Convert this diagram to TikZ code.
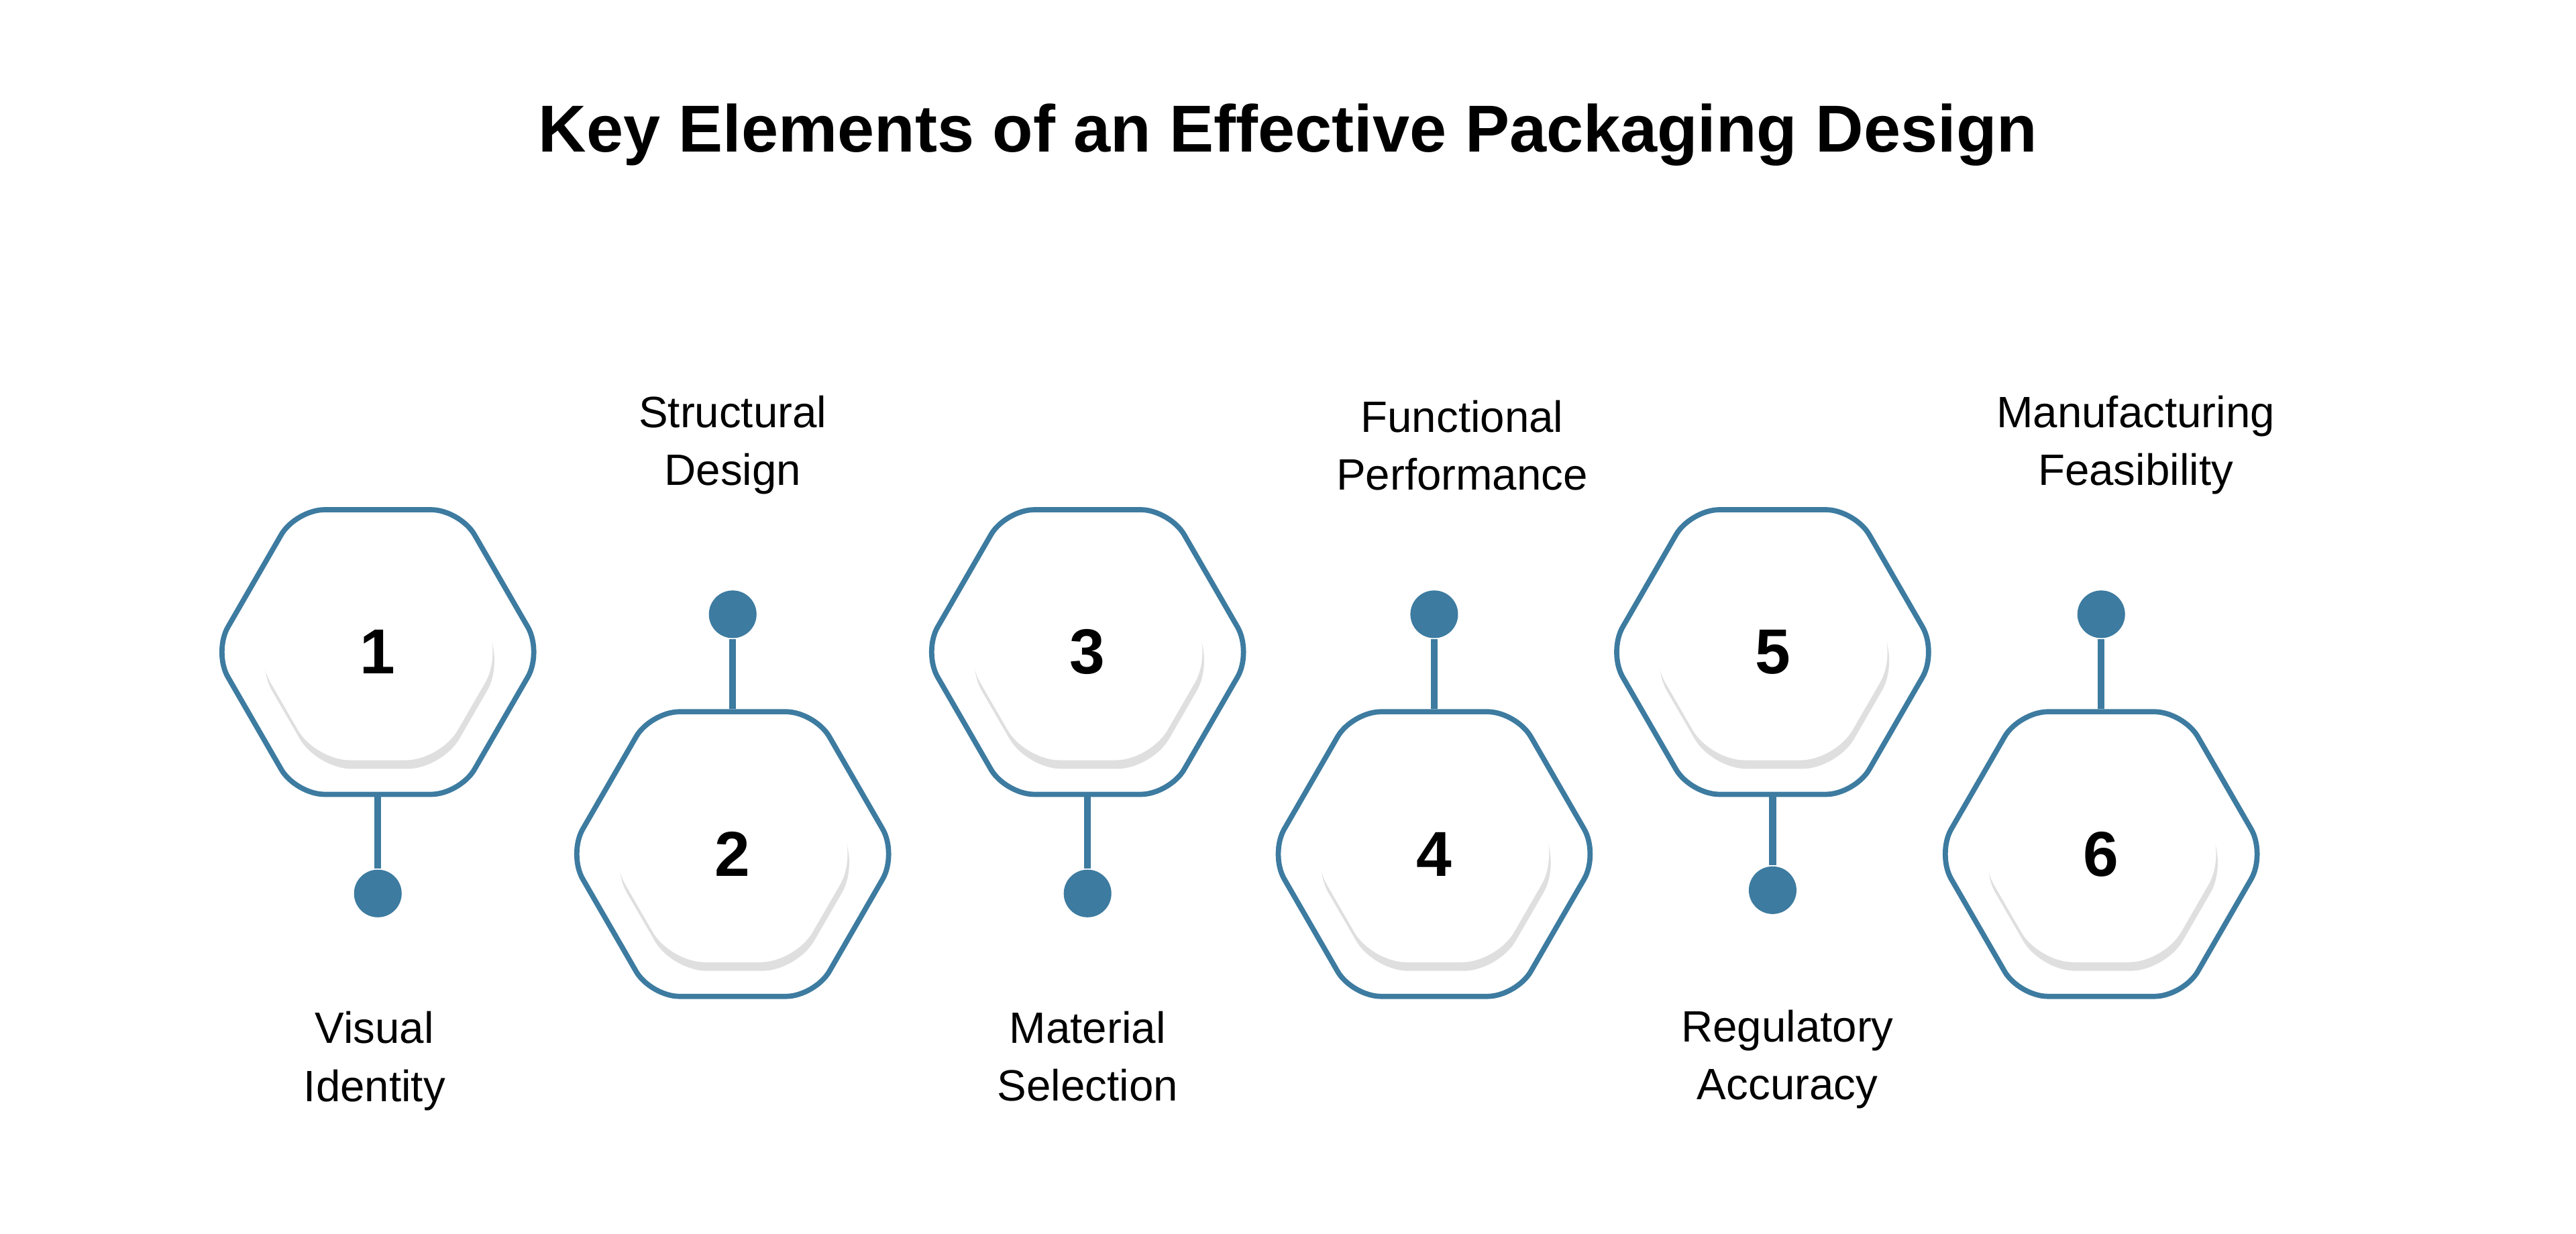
\documentclass[tikz,border=0pt]{standalone}
\usepackage{fontspec}
\setmainfont{Liberation Sans}
\usetikzlibrary{shapes.geometric, shadows}
\definecolor{steel}{HTML}{3D7BA0}

\tikzset{
  hexout/.style={regular polygon, regular polygon sides=6, minimum size=2cm, inner sep=0pt,
    draw=steel, line width=0.9pt, rounded corners=5pt, fill=white},
  hexin/.style={regular polygon, regular polygon sides=6, minimum size=1.52cm, inner sep=0pt,
    fill=white, rounded corners=6pt, font=\bfseries\fontsize{11}{12}\selectfont,
    drop shadow={shadow xshift=0.3pt, shadow yshift=-1.5pt, fill=black!35, opacity=0.35}},
  dot/.style={circle, fill=steel, minimum size=0.29cm, inner sep=0pt},
  stem/.style={draw=steel, line width=1.2pt},
  lbl/.style={align=center, font=\fontsize{7.6}{10}\selectfont}
}

\begin{document}
\begin{tikzpicture}[x=0.01cm, y=-0.01cm]
\useasboundingbox (0,0) rectangle (1568,751);
\node[font=\bfseries\fontsize{11.5}{13}\selectfont] (title) at (784,82) {Key Elements of an Effective Packaging Design};

% upper row: 1, 3, 5 / lower row: 2, 4, 6
\foreach \n/\x/\y/\dy in {1/230/397/544, 2/446/520/374, 3/662/397/544, 4/873/520/374, 5/1079/397/542, 6/1279/520/374} {
  \node[hexout] (h\n) at (\x,\y) {};
  \node[hexin] (i\n) at (\x,\y) {\n};
  \node[dot] (d\n) at (\x,\dy) {};
}
\foreach \n in {1,3,5} \draw[stem] (h\n.south) -- (d\n);
\foreach \n in {2,4,6} \draw[stem] (d\n) -- (h\n.north);

\node[lbl] (l1) at (228,646) {Visual\\Identity};
\node[lbl] (l2) at (446,271) {Structural\\Design};
\node[lbl] (l3) at (662,643) {Material\\Selection};
\node[lbl] (l4) at (890,271) {Functional\\Performance};
\node[lbl] (l5) at (1088,645) {Regulatory\\Accuracy};
\node[lbl] (l6) at (1300,271) {Manufacturing\\Feasibility};
\end{tikzpicture}
\end{document}
